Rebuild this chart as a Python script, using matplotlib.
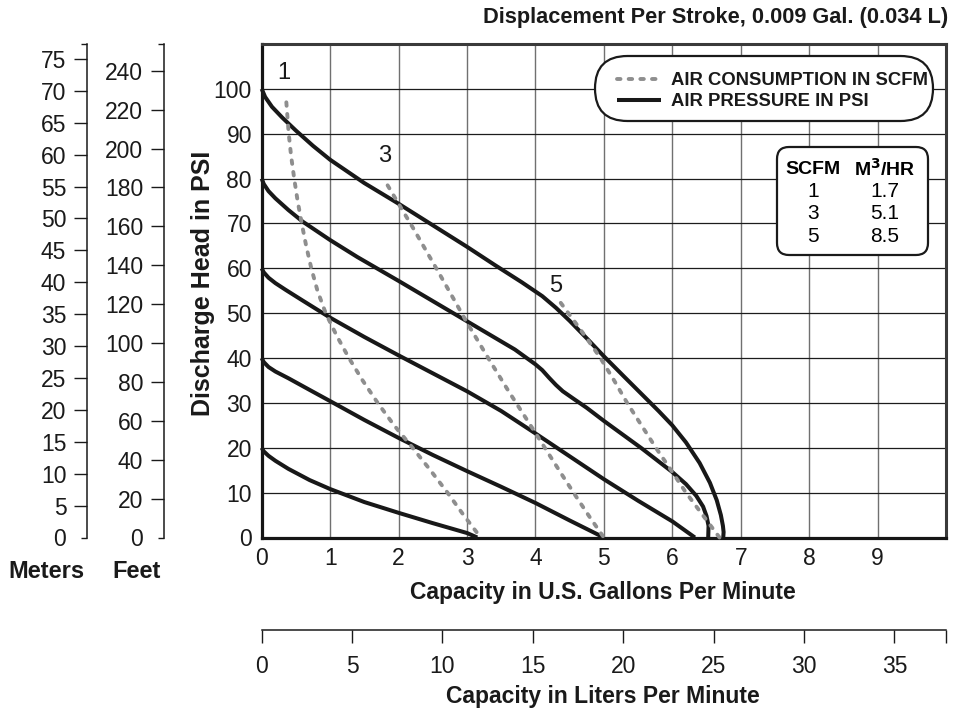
import matplotlib
matplotlib.use('Agg')
import matplotlib.pyplot as plt
from matplotlib import font_manager as fm
from matplotlib.patches import FancyBboxPatch
from matplotlib.transforms import Affine2D
from matplotlib.font_manager import FontProperties

# ---------------- data ----------------
gpm_ticks = [0, 1, 2, 3, 4, 5, 6, 7, 8, 9]
psi_ticks = [0, 10, 20, 30, 40, 50, 60, 70, 80, 90, 100]
meter_ticks = [0, 5, 10, 15, 20, 25, 30, 35, 40, 45, 50, 55, 60, 65, 70, 75]
feet_ticks = [0, 20, 40, 60, 80, 100, 120, 140, 160, 180, 200, 220, 240]
lpm_ticks = [0, 5, 10, 15, 20, 25, 30, 35]

# air pressure curves (PSI)
p100_x = [0, 0.05, 0.15, 0.3, 0.5, 0.75, 1.0, 1.5, 2.0, 2.5, 3.0, 3.4, 3.8, 4.1, 4.3, 4.5, 4.75, 5.0,
          5.3, 5.55, 5.8, 6.0, 6.2, 6.4, 6.55, 6.65, 6.71, 6.74, 6.75, 6.745]
p100_y = [100, 98.2, 96.0, 93.6, 90.7, 87.3, 84.2, 79.0, 74.4, 69.6, 64.8, 60.8, 56.9, 53.8, 51.2, 48.3, 44.4, 40.4,
          35.8, 32.0, 28.2, 25.0, 21.2, 16.6, 12.2, 8.3, 5.0, 2.6, 1.2, 0]
p80_x = [0, 0.03, 0.1, 0.2, 0.39, 0.6, 1.0, 1.4, 2.0, 2.5, 3.0, 3.4, 3.7, 4.0, 4.1, 4.2, 4.3, 4.4, 4.55, 4.75,
         5.0, 5.55, 6.0, 6.2, 6.35, 6.45, 6.5, 6.53, 6.525]
p80_y = [80, 78.8, 77.2, 75.6, 73.0, 70.4, 66.3, 62.5, 57.2, 52.7, 48.2, 44.6, 41.9, 38.6, 37.3, 35.6, 34.0, 32.6,
         31.0, 28.9, 26.0, 19.9, 14.6, 11.9, 9.3, 6.9, 4.8, 2.6, 0]
p60_x = [0, 0.03, 0.1, 0.2, 0.35, 0.6, 1.0, 1.5, 2.0, 2.5, 3.0, 3.5, 4.0, 4.5, 5.0, 5.5, 6.0, 6.33]
p60_y = [60, 59.1, 57.9, 56.7, 55.2, 52.8, 49.0, 44.7, 40.6, 36.6, 32.6, 28.2, 23.2, 18.1, 13.0, 8.2, 3.6, 0]
p40_x = [0, 0.03, 0.1, 0.2, 0.39, 0.7, 1.0, 1.5, 2.0, 2.5, 3.0, 3.5, 4.0, 4.5, 5.0]
p40_y = [40, 39.1, 38.0, 37.0, 35.5, 32.9, 30.4, 26.2, 22.2, 18.4, 14.8, 11.3, 7.7, 3.8, 0]
p20_x = [0, 0.03, 0.1, 0.2, 0.39, 0.7, 1.0, 1.5, 2.0, 2.5, 2.75, 3.0, 3.15]
p20_y = [20, 19.2, 18.2, 17.1, 15.3, 12.8, 10.8, 7.9, 5.5, 3.2, 2.1, 1.0, 0]

# air consumption curves (SCFM)
a1_x = [0.36, 0.37, 0.395, 0.43, 0.475, 0.525, 0.585, 0.65, 0.725, 0.815, 0.935, 1.095, 1.275, 1.475,
        1.695, 1.935, 2.205, 2.465, 2.715, 2.95, 3.2]
a1_y = [97, 95, 90, 85, 80, 75, 70, 65, 60, 55, 50, 45, 40, 35, 30, 25, 20, 15, 10, 5, 0]
a3_x = [1.84, 2.0, 2.2, 2.4, 2.6, 2.8, 3.0, 3.31, 3.6, 4.0, 4.2, 4.4, 4.6, 4.8, 5.0]
a3_y = [78.5, 74.4, 69.3, 64.0, 58.7, 53.3, 47.9, 40.0, 32.8, 23.3, 18.5, 13.7, 9.0, 4.4, 0]
a5_x = [4.37, 4.55, 4.75, 4.95, 5.15, 5.34, 5.55, 5.76, 6.0, 6.2, 6.45, 6.69]
a5_y = [52.3, 48.6, 44.4, 40.0, 35.0, 30.0, 25.0, 20.0, 14.6, 10.0, 4.9, 0]

scfm_labels = ['1', '3', '5']
scfm_label_x = [0.33, 1.79, 4.3]
scfm_label_y = [103.5, 85.0, 56.0]

table_scfm = ['1', '3', '5']
table_m3hr = ['1.7', '5.1', '8.5']

legend_labels = ['AIR CONSUMPTION IN SCFM', 'AIR PRESSURE IN PSI']
title = 'Displacement Per Stroke, 0.009 Gal. (0.034 L)'

PSI_TO_M = 0.70307
PSI_TO_FT = 2.3067
GAL_TO_L = 3.78541

# ---------------- fonts ----------------
names = {f.name for f in fm.fontManager.ttflist}
NARROW = 'Liberation Sans Narrow' if 'Liberation Sans Narrow' in names else 'Liberation Sans'
REG = 'Liberation Sans'
plt.rcParams['font.family'] = [REG, 'DejaVu Sans']

W, H = 961, 715
fig = plt.figure(figsize=(W / 100, H / 100), dpi=100)
PX = Affine2D().scale(1, -1).translate(0, H)  # pixel coords (origin top-left) -> display


def fx(x):
    return x / W


def fy(y):
    return 1 - y / H


TICK_FS = 16.5
AX_L, AX_R, AX_T, AX_B = 261.7, 946.0, 44.0, 537.5
ax = fig.add_axes([fx(AX_L), fy(AX_B), (AX_R - AX_L) / W, (AX_B - AX_T) / H])
ax.set_xlim(0, 10)
ax.set_ylim(0, 110)
ax.set_xticks(gpm_ticks)
ax.set_xticklabels([str(v) for v in gpm_ticks])
ax.set_yticks(psi_ticks)
ax.set_yticklabels([str(v) for v in psi_ticks])
ax.tick_params(axis='both', length=0, labelsize=TICK_FS, colors='#1a1a1a')
ax.tick_params(axis='x', pad=7)
ax.tick_params(axis='y', pad=7)
ax.xaxis.grid(True, color='#707070', lw=1.0)
ax.yaxis.grid(True, color='#1c1c1c', lw=0.9)
ax.set_axisbelow(True)
for s in ['left', 'bottom']:
    ax.spines[s].set_linewidth(2.3)
    ax.spines[s].set_color('#151515')
for s in ['top', 'right']:
    ax.spines[s].set_linewidth(2.2)
    ax.spines[s].set_color('#3a3a3a')

solid_kw = dict(color='#181818', lw=2.9, solid_joinstyle='round', solid_capstyle='butt', zorder=3, clip_on=False)
lp = None
for xs, ys in [(p100_x, p100_y), (p80_x, p80_y), (p60_x, p60_y), (p40_x, p40_y), (p20_x, p20_y)]:
    lp, = ax.plot(xs, ys, **solid_kw)

la = None
for xs, ys in [(a1_x, a1_y), (a3_x, a3_y), (a5_x, a5_y)]:
    la, = ax.plot(xs, ys, color='#8e8e8e', lw=2.8, zorder=4, dash_capstyle='round',
                  dash_joinstyle='round', clip_on=False)
    la.set_dashes([0.9, 2.1])

for t, x, y in zip(scfm_labels, scfm_label_x, scfm_label_y):
    ax.text(x, y, t, fontsize=17, ha='center', va='center', color='#1a1a1a', zorder=5)

# ---------------- legend (pill) ----------------
pill = FancyBboxPatch((595, 56), 338, 65, boxstyle='round,pad=0,rounding_size=32.5',
                      transform=PX, fc='white', ec='#1a1a1a', lw=1.6, zorder=2)
fig.add_artist(pill)
leg = ax.legend([la, lp], legend_labels, loc='upper left', bbox_to_anchor=(617, 72), bbox_transform=PX,
                frameon=False, borderpad=0, borderaxespad=0, handlelength=2.4, handletextpad=0.55,
                labelspacing=0.22, prop=FontProperties(family=NARROW, weight='bold', size=13.3))
leg.set_zorder(6)
for t in leg.get_texts():
    t.set_color('#1a1a1a')
fig.add_artist(leg)
ax.legend_ = None

# ---------------- SCFM table ----------------
tbl = FancyBboxPatch((777, 147), 151, 108, boxstyle='round,pad=0,rounding_size=12',
                     transform=PX, fc='white', ec='#1a1a1a', lw=1.6, zorder=2)
fig.add_artist(tbl)
fig.text(fx(813), fy(169), 'SCFM', family=NARROW, weight='bold', fontsize=14, ha='center', va='center', zorder=7)
fig.text(fx(885), fy(169), 'M$^{\\mathbf{3}}$/HR', family=NARROW, weight='bold', fontsize=14, ha='center',
         va='center', zorder=7)
for i, (a, b) in enumerate(zip(table_scfm, table_m3hr)):
    yy = 191 + 23 * i
    fig.text(fx(813), fy(yy), a, family=NARROW, fontsize=15, ha='center', va='center', zorder=7)
    fig.text(fx(885), fy(yy), b, family=NARROW, fontsize=15, ha='center', va='center', zorder=7)


# ---------------- left head axes ----------------
def side_axis(xpix, top_val, ticks):
    a = fig.add_axes([fx(xpix), fy(AX_B), 0.0005, (AX_B - AX_T) / H])
    a.set_facecolor('none')
    for s in ['top', 'right', 'bottom']:
        a.spines[s].set_visible(False)
    a.spines['left'].set_linewidth(1.1)
    a.spines['left'].set_color('#1a1a1a')
    a.set_xticks([])
    a.set_ylim(0, top_val)
    a.set_yticks(ticks)
    a.set_yticklabels([str(v) for v in ticks])
    a.set_yticks([top_val], minor=True)
    a.tick_params(axis='y', which='major', length=9.5, width=1.0, direction='out', labelsize=TICK_FS,
                  pad=5, colors='#1a1a1a')
    a.tick_params(axis='y', which='minor', length=4, width=1.0, direction='out', colors='#1a1a1a')
    a.yaxis.get_major_ticks()[0].tick1line.set_markersize(4)
    return a


axm = side_axis(86.5, 110 * PSI_TO_M, meter_ticks)
axf = side_axis(163.5, 110 * PSI_TO_FT, feet_ticks)

# ---------------- liters axis ----------------
axl = fig.add_axes([fx(AX_L), fy(630), (AX_R - AX_L) / W, 0.0005])
axl.set_facecolor('none')
for s in ['top', 'right', 'left']:
    axl.spines[s].set_visible(False)
axl.spines['bottom'].set_linewidth(1.1)
axl.spines['bottom'].set_color('#1a1a1a')
axl.set_yticks([])
axl.set_xlim(0, 10 * GAL_TO_L)
axl.set_xticks(lpm_ticks)
axl.set_xticklabels([str(v) for v in lpm_ticks])
axl.set_xticks([10 * GAL_TO_L], minor=True)
axl.tick_params(axis='x', which='both', length=9, width=1.0, direction='out', labelsize=TICK_FS,
                pad=9, colors='#1a1a1a')

# ---------------- labels ----------------
bold = dict(family=NARROW, weight='bold', color='#1a1a1a')
fig.text(fx(948), fy(18), title, fontsize=15.7, ha='right', va='center', **bold)
fig.text(fx(203), fy(283), 'Discharge Head in PSI', fontsize=18, rotation=90, ha='center', va='center', **bold)
fig.text(fx(603), fy(592), 'Capacity in U.S. Gallons Per Minute', fontsize=16.5, ha='center', va='center', **bold)
fig.text(fx(603), fy(697), 'Capacity in Liters Per Minute', fontsize=16.5, ha='center', va='center', **bold)
fig.text(fx(46), fy(572), 'Meters', fontsize=17, ha='center', va='center', **bold)
fig.text(fx(137), fy(572), 'Feet', fontsize=17, ha='center', va='center', **bold)

fig.savefig('out.png', dpi=100)
